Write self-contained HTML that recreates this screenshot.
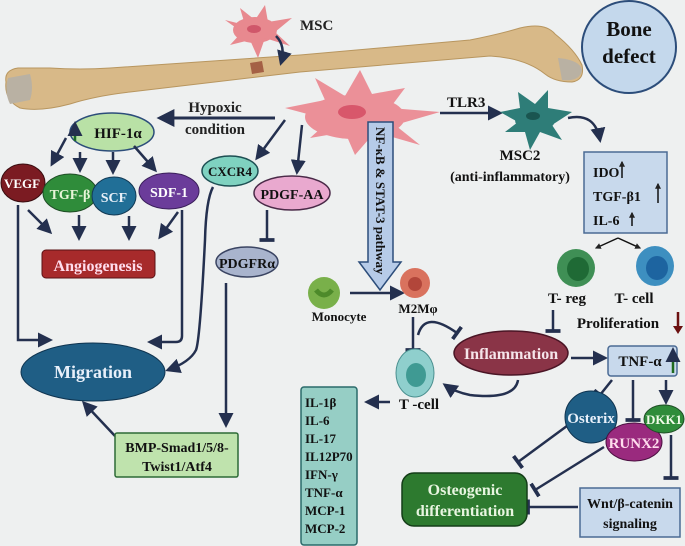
<!DOCTYPE html>
<html><head><meta charset="utf-8"><style>
html,body{margin:0;padding:0;background:#eef0f0}
svg{display:block}
text{font-family:"Liberation Serif",serif;font-weight:bold}
</style></head><body>
<svg width="685" height="546" viewBox="0 0 685 546" xmlns="http://www.w3.org/2000/svg">
<defs>
<marker id="a" viewBox="0 0 10 10" refX="8" refY="5" markerWidth="6" markerHeight="6" orient="auto"><path d="M0,0L10,5L0,10z" fill="#24304f"/></marker>
<marker id="t" viewBox="0 0 10 10" refX="5" refY="5" markerWidth="6" markerHeight="6" orient="auto"><path d="M5,0V10" stroke="#24304f" stroke-width="2.5"/></marker>
<marker id="s" viewBox="0 0 10 10" refX="8" refY="5" markerWidth="4" markerHeight="4" orient="auto"><path d="M0,0L10,5L0,10z" fill="#222"/></marker>
</defs>
<rect width="685" height="546" fill="#eef0f0"/>
<!-- bone -->
<path d="M6,82 Q4,70 18,68 L50,68 Q80,70 110,68 L300,55 L470,40 Q500,34 520,28 Q545,22 555,34 Q575,50 582,65 Q585,80 572,82 Q555,82 545,74 Q525,58 490,56 L300,72 L130,92 Q95,96 70,104 Q40,112 20,108 Q4,100 6,82 Z" fill="#d8b988" stroke="#b8965f" stroke-width="1"/>
<path d="M8,78 Q4,92 10,104 L30,100 Q34,88 30,74 Z" fill="#b9b1a3"/>
<path d="M558,58 Q580,60 582,70 Q580,82 562,80 Z" fill="#b9b1a3"/>
<path d="M250,63 L262,61 L264,72 L252,74Z" fill="#8e3a2a" opacity=".7"/>
<!-- MSC top -->
<g fill="#e8898f"><ellipse cx="255" cy="30" rx="22" ry="13"/><path d="M225,20L245,25L240,8L255,20L265,5L268,22L292,18L275,32L290,46L265,38L258,58L250,40L230,45L242,32Z"/></g>
<ellipse cx="254" cy="29" rx="7" ry="4" fill="#d0576a"/>
<text x="300" y="30" font-size="15" fill="#222">MSC</text>
<path d="M276,36 Q286,46 281,63" fill="none" stroke="#24304f" stroke-width="2.5" marker-end="url(#a)"/>
<!-- big MSC -->
<g fill="#eb9098"><ellipse cx="355" cy="117" rx="50" ry="22"/><path d="M285,108L325,100L315,78L345,96L360,70L372,94L405,88L390,108L440,112L395,125L420,145L375,132L355,155L345,132L310,138L330,120Z"/></g>
<ellipse cx="352" cy="112" rx="14" ry="7" fill="#d8576b"/>
<!-- bone defect -->
<ellipse cx="629" cy="47" rx="47" ry="46" fill="#c4d8ec" stroke="#2c4d7a" stroke-width="2"/>
<text x="629" y="36" font-size="21" text-anchor="middle" fill="#111">Bone</text>
<text x="629" y="63" font-size="21" text-anchor="middle" fill="#111">defect</text>
<!-- hypoxic -->
<text x="215" y="112" font-size="15" text-anchor="middle" fill="#222">Hypoxic</text>
<text x="215" y="134" font-size="15" text-anchor="middle" fill="#222">condition</text>
<line x1="275" y1="118" x2="160" y2="118" stroke="#24304f" stroke-width="3" marker-end="url(#a)"/>
<!-- HIF -->
<ellipse cx="112" cy="132" rx="42" ry="19" fill="#b9e1a6" stroke="#2c4d7a" stroke-width="1.5"/>
<path d="M75,141V124" stroke="#1c6a2a" stroke-width="2.5" marker-end="url(#a)"/>
<text x="118" y="138" font-size="15" text-anchor="middle" fill="#111">HIF-1α</text>
<g stroke="#24304f" stroke-width="2.5" marker-end="url(#a)">
<line x1="66" y1="138" x2="52" y2="164"/><line x1="80" y1="152" x2="80" y2="170"/><line x1="113" y1="152" x2="113" y2="172"/><line x1="134" y1="146" x2="155" y2="170"/>
<line x1="285" y1="120" x2="257" y2="158"/><line x1="302" y1="125" x2="297" y2="172"/>
<line x1="28" y1="210" x2="50" y2="232"/><line x1="79" y1="215" x2="79" y2="238"/><line x1="129" y1="216" x2="129" y2="238"/><line x1="178" y1="212" x2="160" y2="237"/>
<path d="M18,205V340H50" fill="none"/><path d="M182,210V336Q182,342 176,342H150" fill="none"/>
<path d="M213,187Q206,200 205,240Q200,340 196,350Q190,362 168,370" fill="none"/>
<path d="M226,283V425" fill="none"/>
<line x1="115" y1="436" x2="84" y2="403"/>
<line x1="440" y1="113" x2="500" y2="113"/>
<path d="M568,118Q595,112 600,140" fill="none"/>
<line x1="350" y1="293" x2="402" y2="293"/>
<line x1="571" y1="358" x2="605" y2="358"/>
<line x1="390" y1="402" x2="367" y2="402"/>
<path d="M518,380Q515,400 470,395Q455,392 445,385" fill="none"/>
<line x1="666" y1="380" x2="666" y2="402"/>
</g>
<g stroke="#24304f" stroke-width="2.5" marker-end="url(#t)" fill="none">
<line x1="267" y1="210" x2="267" y2="240"/>
<line x1="413" y1="317" x2="413" y2="350"/>
<path d="M418,335Q425,310 457,333"/>
<line x1="553" y1="310" x2="553" y2="331"/>
<line x1="612" y1="380" x2="600" y2="395"/>
<line x1="633" y1="380" x2="633" y2="420"/>
<path d="M571,423L518,462"/><path d="M604,447L535,490"/>
<line x1="671" y1="435" x2="671" y2="478"/>
<line x1="578" y1="507" x2="528" y2="507"/>
</g>
<!-- small nodes -->
<ellipse cx="23" cy="183" rx="22" ry="19" fill="#7b1b22" stroke="#3a0d10" stroke-width="1"/>
<text x="22" y="188" font-size="13" text-anchor="middle" fill="#fff">VEGF</text>
<ellipse cx="70" cy="193" rx="27" ry="19" fill="#2f8c3a" stroke="#1e4d25"/>
<text x="70" y="199" font-size="14" text-anchor="middle" fill="#e8f5d8">TGF-β</text>
<ellipse cx="114" cy="196" rx="22" ry="19" fill="#216f97" stroke="#123a55"/>
<text x="114" y="202" font-size="14" text-anchor="middle" fill="#e8f0f8">SCF</text>
<ellipse cx="169" cy="191" rx="30" ry="18" fill="#6b3c9a" stroke="#3a1f5a"/>
<text x="169" y="197" font-size="14" text-anchor="middle" fill="#fff">SDF-1</text>
<rect x="42" y="250" width="113" height="28" rx="4" fill="#a72a2b" stroke="#5a1215"/>
<text x="98" y="271" font-size="16" text-anchor="middle" fill="#fde">Angiogenesis</text>
<ellipse cx="230" cy="171" rx="28" ry="15" fill="#7fd2c0" stroke="#1d4f53" stroke-width="1.5"/>
<text x="230" y="176" font-size="13" text-anchor="middle" fill="#111">CXCR4</text>
<ellipse cx="292" cy="193" rx="38" ry="17" fill="#e9a9cf" stroke="#4a2a48" stroke-width="1.5"/>
<text x="292" y="199" font-size="14" text-anchor="middle" fill="#111">PDGF-AA</text>
<ellipse cx="247" cy="262" rx="31" ry="15" fill="#a9b4cd" stroke="#3a4462" stroke-width="1.5"/>
<text x="247" y="268" font-size="14" text-anchor="middle" fill="#111">PDGFRα</text>
<ellipse cx="93" cy="372" rx="72" ry="29" fill="#1f5e85" stroke="#0f3450"/>
<text x="93" y="378" font-size="18" text-anchor="middle" fill="#e8f0fa">Migration</text>
<rect x="115" y="433" width="123" height="44" rx="2" fill="#bfe3ad" stroke="#2d6b36" stroke-width="1.5"/>
<text x="177" y="452" font-size="14" text-anchor="middle" fill="#111">BMP-Smad1/5/8-</text>
<text x="177" y="471" font-size="14" text-anchor="middle" fill="#111">Twist1/Atf4</text>
<!-- NF-kB arrow -->
<path d="M368,122H393V262H401L380,290L359,262H368Z" fill="#b6cbe8" stroke="#2c4d7a" stroke-width="1.5"/>
<text transform="translate(376,127) rotate(90)" font-size="13" fill="#111">NF-κB &amp; STAT-3  pathway</text>
<!-- TLR3 / MSC2 -->
<text x="447" y="107" font-size="15" fill="#111">TLR3</text>
<g fill="#2e7d78"><ellipse cx="535" cy="120" rx="20" ry="12"/><path d="M500,112L520,108L518,92L535,104L548,90L548,108L572,112L552,125L562,140L540,132L530,150L525,132L505,132L518,122Z"/></g>
<ellipse cx="533" cy="116" rx="7" ry="4" fill="#1a5550"/>
<text x="520" y="160" font-size="15" text-anchor="middle" fill="#111">MSC2</text>
<text x="510" y="181" font-size="14" text-anchor="middle" fill="#111">(anti-inflammatory)</text>
<rect x="584" y="152" width="83" height="81" fill="#c8d9ec" stroke="#4a6a94" stroke-width="1.5"/>
<text x="593" y="177" font-size="14" fill="#111">IDO</text><text x="593" y="201" font-size="14" fill="#111">TGF-β1</text><text x="593" y="225" font-size="14" fill="#111">IL-6</text>
<g stroke="#111" stroke-width="1.5" marker-end="url(#s)"><line x1="622" y1="178" x2="622" y2="162"/><line x1="658" y1="203" x2="658" y2="184"/><line x1="632" y1="226" x2="632" y2="213"/>
<line x1="618" y1="238" x2="596" y2="248"/><line x1="618" y1="238" x2="640" y2="248"/></g>
<!-- T reg / T cell -->
<ellipse cx="576" cy="268" rx="19" ry="19" fill="#3f8f55"/><ellipse cx="578" cy="269" rx="11" ry="12" fill="#1f6a35"/>
<ellipse cx="655" cy="266" rx="19" ry="20" fill="#3d8fc0"/><ellipse cx="657" cy="268" rx="11" ry="12" fill="#1d64a0"/>
<text x="567" y="303" font-size="15" text-anchor="middle" fill="#111">T- reg</text>
<text x="634" y="303" font-size="15" text-anchor="middle" fill="#111">T- cell</text>
<text x="618" y="328" font-size="15" text-anchor="middle" fill="#111">Proliferation</text>
<path d="M678,312V330" stroke="#6b1010" stroke-width="2.5"/><path d="M673,326L678,334L683,326Z" fill="#6b1010"/>
<!-- monocyte / M2 -->
<circle cx="324" cy="293" r="16" fill="#79b04a"/><path d="M316,290Q324,300 332,290" stroke="#4d8a2a" stroke-width="5" fill="none"/>
<text x="339" y="321" font-size="13" text-anchor="middle" fill="#111">Monocyte</text>
<circle cx="415" cy="283" r="15" fill="#d9725e"/><circle cx="415" cy="284" r="7" fill="#b2463a"/>
<text x="418" y="313" font-size="13" text-anchor="middle" fill="#111">M2Mφ</text>
<ellipse cx="511" cy="353" rx="57" ry="22" fill="#8a3447" stroke="#4a1525" stroke-width="1.5"/>
<text x="511" y="359" font-size="16" text-anchor="middle" fill="#f5e5ea">Inflammation</text>
<ellipse cx="415" cy="373" rx="19" ry="24" fill="#8fcfcd" stroke="#4a8f8f"/><ellipse cx="416" cy="375" rx="10" ry="12" fill="#3f9a93"/>
<text x="419" y="409" font-size="15" text-anchor="middle" fill="#111">T -cell</text>
<rect x="301" y="387" width="56" height="158" rx="3" fill="#96cec5" stroke="#2a6a6a" stroke-width="1.5"/>
<g font-size="13" fill="#111"><text x="305" y="407">IL-1β</text><text x="305" y="425">IL-6</text><text x="305" y="443">IL-17</text><text x="305" y="461">IL12P70</text><text x="305" y="479">IFN-γ</text><text x="305" y="497">TNF-α</text><text x="305" y="515">MCP-1</text><text x="305" y="533">MCP-2</text></g>
<!-- TNF -->
<rect x="608" y="346" width="69" height="30" rx="3" fill="#c8d9ec" stroke="#4a6a94" stroke-width="1.5"/>
<text x="640" y="366" font-size="15" text-anchor="middle" fill="#111">TNF-α</text>
<path d="M673,373V350" stroke="#1f6a1f" stroke-width="2.5" marker-end="url(#a)"/>
<circle cx="591" cy="417" r="26" fill="#1f5e85" stroke="#0f3450"/>
<text x="591" y="423" font-size="15" text-anchor="middle" fill="#e8f0fa">Osterix</text>
<ellipse cx="634" cy="442" rx="28" ry="19" fill="#9a2a7e" stroke="#4a1040"/>
<text x="634" y="448" font-size="15" text-anchor="middle" fill="#fde">RUNX2</text>
<ellipse cx="664" cy="419" rx="20" ry="14" fill="#2f8c3a" stroke="#1e4d25"/>
<text x="664" y="424" font-size="13" text-anchor="middle" fill="#f0fbe8">DKK1</text>
<rect x="402" y="473" width="125" height="53" rx="12" fill="#2d7a2f" stroke="#143d18" stroke-width="1.5"/>
<text x="465" y="495" font-size="16" text-anchor="middle" fill="#e8f5e0">Osteogenic</text>
<text x="465" y="516" font-size="16" text-anchor="middle" fill="#e8f5e0">differentiation</text>
<rect x="580" y="488" width="100" height="49" fill="#c8d9ec" stroke="#4a6a94" stroke-width="1.5"/>
<text x="630" y="508" font-size="14" text-anchor="middle" fill="#111">Wnt/β-catenin</text>
<text x="630" y="528" font-size="14" text-anchor="middle" fill="#111">signaling</text>
</svg>
</body></html>
